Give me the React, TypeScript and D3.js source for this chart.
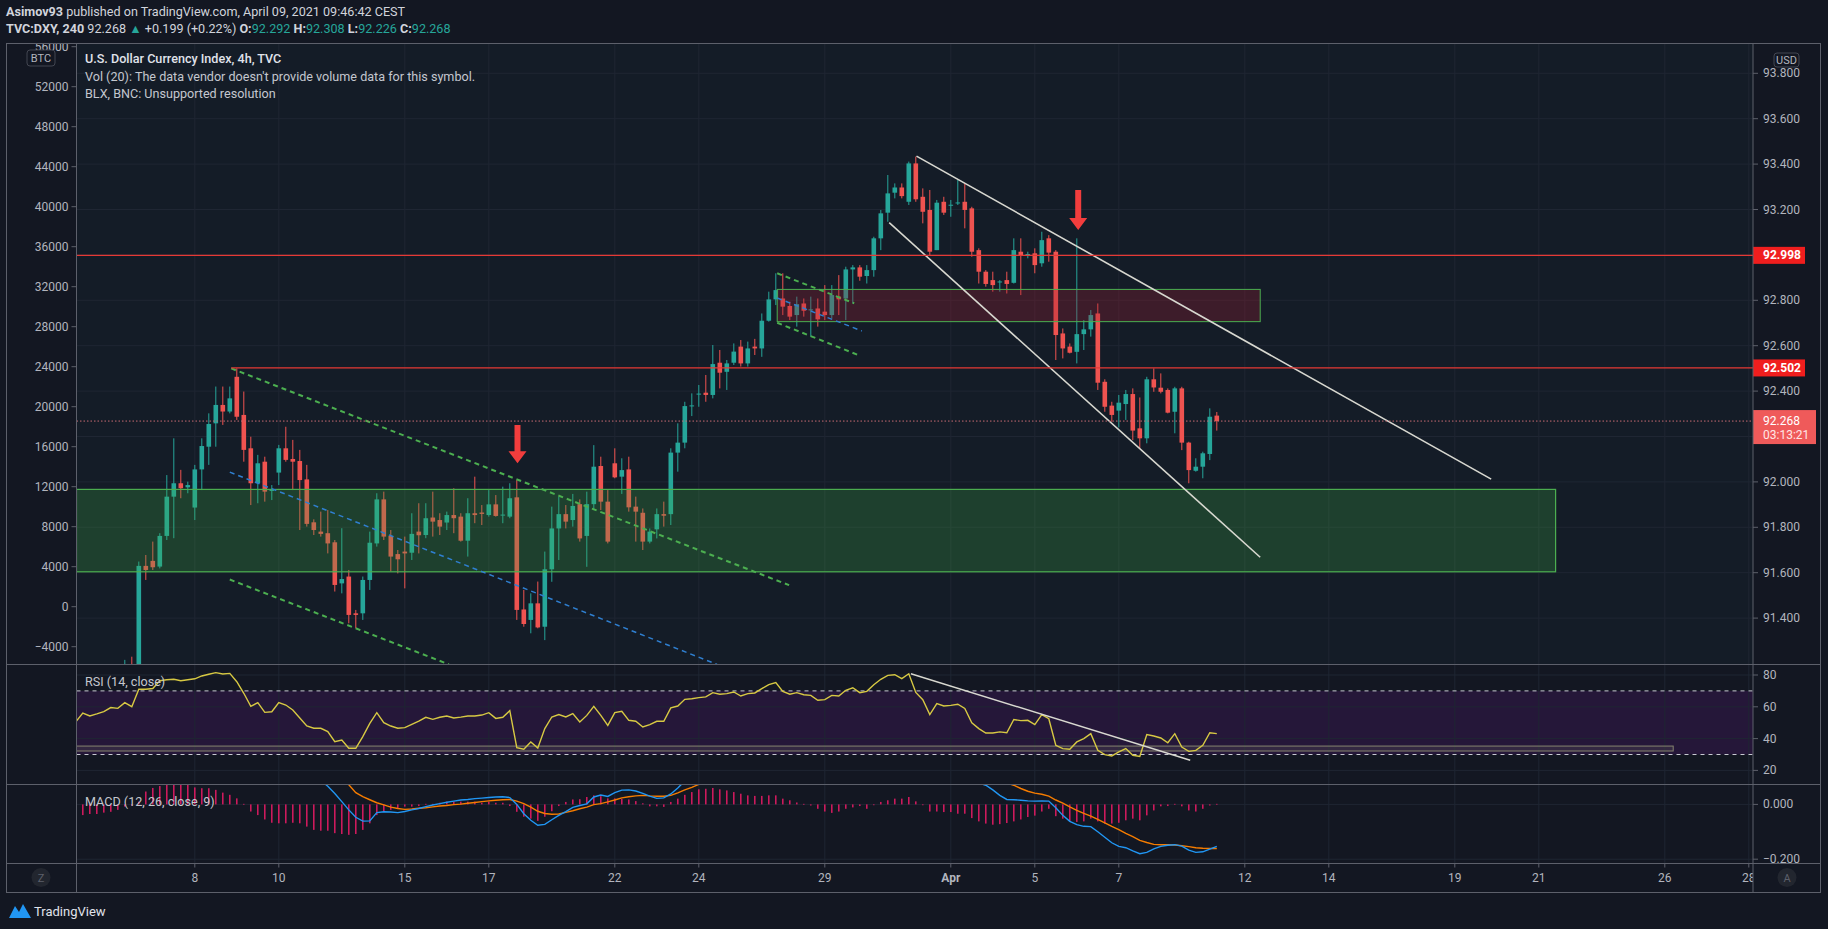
import React from 'react';
import * as d3 from 'd3';

// 4h bars, first bar index is -7 (Mar 8 00:00 = index 10)
const FIRST_INDEX = -7;

// O, H, L, C
const candles: [number, number, number, number][] = [
  [91.05, 91.12, 91.0, 91.08], [91.08, 91.14, 91.03, 91.1], [91.1, 91.15, 91.05, 91.07], [91.07, 91.13, 91.02, 91.11],
  [91.11, 91.17, 91.06, 91.14], [91.14, 91.18, 91.08, 91.12], [91.12, 91.17, 91.07, 91.12],
  [91.12, 91.216, 91.08, 91.15], [91.16, 91.23, 91.1, 91.13], [91.13, 91.649, 91.11, 91.63], [91.63, 91.678, 91.568, 91.612],
  [91.652, 91.737, 91.612, 91.624], [91.627, 91.774, 91.619, 91.762], [91.762, 92.03, 91.744, 91.935], [91.935, 92.192, 91.752, 91.994],
  [91.994, 92.053, 91.928, 91.972], [91.976, 92.001, 91.95, 91.986], [91.887, 92.075, 91.832, 92.055], [92.055, 92.192, 91.964, 92.158],
  [92.155, 92.302, 92.075, 92.255], [92.258, 92.42, 92.155, 92.339], [92.339, 92.42, 92.251, 92.31], [92.31, 92.42, 92.302, 92.368],
  [92.463, 92.5, 92.273, 92.287], [92.295, 92.398, 92.089, 92.141], [92.148, 92.199, 91.898, 91.994], [91.994, 92.119, 91.906, 92.082],
  [92.089, 92.111, 91.913, 91.957], [91.96, 91.986, 91.92, 91.967], [92.041, 92.163, 91.986, 92.148], [92.148, 92.243, 92.089, 92.097],
  [92.101, 92.185, 91.964, 92.089], [92.092, 92.141, 91.788, 92.008], [92.011, 92.075, 91.803, 91.815], [91.822, 91.835, 91.766, 91.788],
  [91.781, 91.869, 91.759, 91.771], [91.774, 91.876, 91.685, 91.729], [91.734, 91.744, 91.517, 91.546], [91.553, 91.796, 91.509, 91.572],
  [91.583, 91.612, 91.377, 91.414], [91.421, 91.436, 91.355, 91.414], [91.421, 91.583, 91.392, 91.568], [91.568, 91.781, 91.524, 91.732],
  [91.729, 91.95, 91.715, 91.923], [91.923, 91.957, 91.744, 91.759], [91.762, 91.788, 91.605, 91.671], [91.682, 91.7, 91.597, 91.659],
  [91.693, 91.759, 91.531, 91.685], [91.688, 91.862, 91.656, 91.771], [91.781, 91.906, 91.685, 91.765], [91.766, 91.906, 91.752, 91.84],
  [91.843, 91.957, 91.759, 91.825], [91.832, 91.862, 91.766, 91.803], [91.821, 91.869, 91.788, 91.854], [91.854, 91.972, 91.774, 91.84],
  [91.847, 91.862, 91.737, 91.741], [91.741, 91.928, 91.671, 91.862], [91.862, 92.023, 91.818, 91.854], [91.865, 91.898, 91.81, 91.859],
  [91.854, 91.964, 91.847, 91.901], [91.901, 91.942, 91.847, 91.85], [91.854, 91.979, 91.818, 91.856], [91.847, 91.994, 91.84, 91.928],
  [91.932, 92.008, 91.392, 91.436], [91.438, 91.524, 91.362, 91.374], [91.392, 91.509, 91.333, 91.465], [91.465, 91.561, 91.355, 91.359],
  [91.362, 91.693, 91.303, 91.615], [91.615, 91.891, 91.56, 91.795], [91.795, 91.935, 91.656, 91.858], [91.858, 91.898, 91.795, 91.825],
  [91.832, 91.947, 91.803, 91.894], [91.902, 91.923, 91.737, 91.751], [91.762, 91.957, 91.626, 91.902], [91.902, 92.162, 91.876, 92.067],
  [92.07, 92.111, 91.876, 91.913], [91.913, 91.964, 91.729, 91.737], [92.082, 92.148, 92.016, 92.02], [92.023, 92.104, 91.947, 92.052],
  [92.055, 92.111, 91.869, 91.888], [91.891, 91.935, 91.737, 91.869], [91.864, 91.883, 91.7, 91.737], [91.737, 91.795, 91.729, 91.781],
  [91.791, 91.883, 91.751, 91.858], [91.858, 91.913, 91.803, 91.851], [91.858, 92.148, 91.81, 92.129], [92.129, 92.258, 92.045, 92.173],
  [92.173, 92.353, 92.148, 92.334], [92.334, 92.39, 92.29, 92.337], [92.386, 92.427, 92.331, 92.389], [92.393, 92.471, 92.353, 92.383],
  [92.383, 92.603, 92.368, 92.519], [92.525, 92.581, 92.412, 92.481], [92.485, 92.537, 92.405, 92.522], [92.525, 92.61, 92.515, 92.574],
  [92.596, 92.625, 92.508, 92.522], [92.522, 92.618, 92.508, 92.588], [92.596, 92.63, 92.559, 92.588], [92.588, 92.742, 92.551, 92.71],
  [92.71, 92.838, 92.706, 92.804], [92.804, 92.919, 92.779, 92.845], [92.808, 92.919, 92.735, 92.772], [92.775, 92.794, 92.713, 92.728],
  [92.735, 92.816, 92.684, 92.783], [92.786, 92.808, 92.728, 92.754], [92.757, 92.816, 92.64, 92.76], [92.764, 92.808, 92.684, 92.716],
  [92.75, 92.867, 92.713, 92.735], [92.735, 92.867, 92.72, 92.823], [92.816, 92.911, 92.735, 92.804], [92.808, 92.948, 92.713, 92.936],
  [92.936, 92.955, 92.786, 92.945], [92.945, 92.955, 92.886, 92.904], [92.907, 92.955, 92.874, 92.933], [92.933, 93.08, 92.904, 93.073],
  [93.073, 93.198, 93.021, 93.183], [93.186, 93.352, 93.146, 93.271], [93.274, 93.315, 93.249, 93.297], [93.297, 93.315, 93.249, 93.259],
  [93.234, 93.411, 93.22, 93.403], [93.403, 93.433, 93.234, 93.245], [93.256, 93.293, 93.139, 93.19], [93.198, 93.286, 92.999, 93.014],
  [93.021, 93.242, 93.021, 93.23], [93.234, 93.256, 93.176, 93.186], [93.219, 93.242, 93.168, 93.221], [93.229, 93.33, 93.22, 93.231],
  [93.234, 93.315, 93.117, 93.198], [93.205, 93.212, 92.992, 93.014], [93.021, 93.029, 92.874, 92.926], [92.926, 92.933, 92.86, 92.872],
  [92.889, 92.926, 92.838, 92.867], [92.881, 92.889, 92.838, 92.883], [92.889, 92.926, 92.83, 92.872], [92.877, 93.073, 92.874, 93.021],
  [93.014, 93.073, 92.823, 92.999], [92.995, 93.014, 92.985, 93.004], [93.007, 93.029, 92.919, 92.955], [92.963, 93.102, 92.948, 93.065],
  [93.073, 93.087, 92.97, 93.01], [93.014, 93.021, 92.537, 92.647], [92.654, 92.676, 92.544, 92.588], [92.596, 92.61, 92.566, 92.569],
  [92.573, 93.073, 92.522, 92.651], [92.651, 92.713, 92.581, 92.672], [92.672, 92.757, 92.64, 92.735], [92.742, 92.786, 92.405, 92.437],
  [92.441, 92.452, 92.309, 92.331], [92.336, 92.353, 92.265, 92.295], [92.314, 92.383, 92.24, 92.349], [92.343, 92.405, 92.273, 92.387],
  [92.387, 92.412, 92.184, 92.226], [92.236, 92.372, 92.148, 92.192], [92.192, 92.463, 92.17, 92.452], [92.452, 92.5, 92.397, 92.416],
  [92.415, 92.478, 92.39, 92.397], [92.405, 92.412, 92.302, 92.305], [92.309, 92.419, 92.214, 92.412], [92.412, 92.419, 92.14, 92.173],
  [92.173, 92.177, 91.994, 92.052], [92.049, 92.104, 92.045, 92.067], [92.067, 92.133, 92.016, 92.126], [92.123, 92.324, 92.096, 92.287],
  [92.292, 92.308, 92.226, 92.268],
];

const rsiValues = [
  50.5, 56, 54.2, 55.5, 57, 59.5, 59, 62.6, 60.1, 71,
  71, 71.5, 76.4, 77, 77.3, 76.4, 77, 77.6, 79.4, 80.5,
  81.5, 80.6, 81, 75.8, 68.5, 60.3, 62.6, 56.5, 56.9, 62.6,
  61.1, 58, 53, 48, 46.5, 46.5, 44.4, 38.1, 39.1, 33.9,
  33.9, 41.2, 49.6, 56.3, 50, 47.9, 46.5, 46.9, 49, 51,
  53.4, 52.1, 53.4, 54.2, 53, 53.5, 54.2, 54.2, 54.8, 56.3,
  52.7, 53.4, 57.6, 34.3, 33.3, 37.9, 34.1, 46.3, 53.6, 55.1,
  53.6, 55.7, 50.4, 54.6, 60.3, 54.6, 48.3, 56.3, 57.2, 51.5,
  50.9, 47.3, 48.8, 50.9, 50.9, 59.3, 60.5, 64.7, 65.1, 65.8,
  66.2, 68.9, 67.9, 68.3, 69.3, 66.8, 68.3, 68.7, 71.4, 73.9,
  75.2, 69.7, 67.9, 68.9, 67.6, 67.2, 64.1, 64.5, 67.2, 66.8,
  70.4, 72, 68.9, 69.7, 73.9, 77.3, 79.8, 80.2, 77.7, 80.8,
  69, 64.5, 55.1, 62, 60.5, 60.9, 61.6, 59, 50, 46.3,
  43.5, 43.5, 44.2, 43.7, 52, 51.3, 51.5, 48.8, 55.1, 52.5,
  35.8, 33.7, 33.3, 37.9, 40, 43.1, 32.6, 29.9, 29.1, 31.6,
  33.7, 29.5, 28.8, 42.5, 41.6, 40.4, 37.4, 43.1, 34.7, 32,
  32.6, 35.8, 43.7, 43.1,
];

const macdValues = [
  0.14, 0.13, 0.12, 0.11, 0.1, 0.1, 0.1, 0.1, 0.11, 0.13,
  0.15, 0.17, 0.19, 0.21, 0.22, 0.23, 0.24, 0.24, 0.25, 0.25,
  0.25, 0.25, 0.24, 0.24, 0.23, 0.22, 0.22, 0.21, 0.2, 0.2,
  0.19, 0.18, 0.16, 0.14, 0.115, 0.088, 0.066, 0.04, 0.01, -0.02,
  -0.047, -0.061, -0.06, -0.03, -0.027, -0.028, -0.03, -0.026, -0.02, -0.015,
  -0.008, -0.002, 0.003, 0.008, 0.012, 0.016, 0.018, 0.021, 0.023, 0.025,
  0.027, 0.028, 0.025, 0.0, -0.034, -0.058, -0.076, -0.073, -0.056, -0.04,
  -0.026, -0.011, -0.004, 0.002, 0.027, 0.034, 0.029, 0.043, 0.052, 0.053,
  0.049, 0.04, 0.03, 0.022, 0.024, 0.038, 0.06, 0.085, 0.1, 0.115,
  0.13, 0.145, 0.155, 0.165, 0.17, 0.175, 0.18, 0.185, 0.19, 0.2,
  0.21, 0.21, 0.205, 0.2, 0.195, 0.19, 0.18, 0.17, 0.165, 0.16,
  0.16, 0.16, 0.16, 0.16, 0.165, 0.175, 0.185, 0.19, 0.195, 0.2,
  0.19, 0.175, 0.155, 0.14, 0.13, 0.12, 0.11, 0.1, 0.09, 0.078,
  0.07, 0.053, 0.033, 0.018, 0.017, 0.015, 0.013, 0.012, 0.013, 0.012,
  -0.012, -0.04, -0.062, -0.074, -0.08, -0.081, -0.1, -0.12, -0.14, -0.153,
  -0.158, -0.17, -0.18, -0.175, -0.162, -0.153, -0.149, -0.147, -0.152, -0.167,
  -0.175, -0.173, -0.163, -0.153,
];

const signalValues = [
  0.12, 0.12, 0.12, 0.12, 0.12, 0.115, 0.115, 0.11, 0.11, 0.11,
  0.115, 0.12, 0.13, 0.14, 0.15, 0.16, 0.17, 0.18, 0.19, 0.2,
  0.205, 0.21, 0.215, 0.22, 0.22, 0.22, 0.22, 0.215, 0.21, 0.205,
  0.2, 0.19, 0.18, 0.17, 0.155, 0.14, 0.125, 0.11, 0.09, 0.072,
  0.043, 0.028, 0.017, 0.006, -0.002, -0.01, -0.015, -0.018, -0.017, -0.014,
  -0.012, -0.009, -0.006, -0.004, -0.001, 0.001, 0.004, 0.007, 0.01, 0.013,
  0.015, 0.017, 0.018, 0.012, 0.003, -0.01, -0.025, -0.033, -0.036, -0.035,
  -0.029, -0.023, -0.016, -0.01, -0.001, 0.003, 0.009, 0.016, 0.024, 0.028,
  0.031, 0.033, 0.031, 0.03, 0.03, 0.033, 0.042, 0.053, 0.062, 0.073,
  0.085, 0.095, 0.105, 0.115, 0.125, 0.133, 0.14, 0.147, 0.153, 0.16,
  0.165, 0.17, 0.175, 0.178, 0.18, 0.182, 0.182, 0.181, 0.18, 0.178,
  0.176, 0.175, 0.173, 0.172, 0.172, 0.172, 0.174, 0.176, 0.178, 0.18,
  0.181, 0.18, 0.176, 0.17, 0.162, 0.155, 0.147, 0.138, 0.128, 0.117,
  0.105, 0.094, 0.085, 0.078, 0.07, 0.058, 0.048, 0.041, 0.037, 0.03,
  0.016, 0.005, -0.009, -0.022, -0.033, -0.043, -0.055, -0.067, -0.08, -0.092,
  -0.106, -0.118, -0.131, -0.139, -0.146, -0.147, -0.147, -0.148, -0.151, -0.154,
  -0.158, -0.16, -0.161, -0.161,
];

const histValues = [
  -0.04, -0.039, -0.035, -0.035, -0.03, -0.027, -0.02, -0.008, -0.004, 0.01,
  0.047, 0.06, 0.067, 0.075, 0.075, 0.075, 0.071, 0.062, 0.059, 0.059,
  0.053, 0.043, 0.035, 0.022, 0.002, -0.026, -0.039, -0.055, -0.067, -0.069,
  -0.069, -0.067, -0.069, -0.081, -0.093, -0.096, -0.096, -0.105, -0.108, -0.111,
  -0.108, -0.093, -0.069, -0.039, -0.027, -0.02, -0.014, -0.008, -0.008, -0.006,
  0.002, 0.002, 0.006, 0.01, 0.01, 0.01, 0.01, 0.01, 0.006, 0.01,
  0.006, 0.006, -0.006, -0.027, -0.045, -0.052, -0.06, -0.045, -0.025, -0.006,
  0.009, 0.018, 0.019, 0.027, 0.033, 0.03, 0.022, 0.022, 0.02, 0.018,
  0.012, 0.004, -0.007, -0.007, -0.009, 0.009, 0.021, 0.035, 0.045, 0.055,
  0.057, 0.06, 0.055, 0.051, 0.045, 0.039, 0.033, 0.031, 0.031, 0.033,
  0.033, 0.021, 0.015, 0.007, 0.002, -0.004, -0.016, -0.026, -0.031, -0.026,
  -0.016, -0.011, -0.006, -0.016, 0.0, 0.009, 0.015, 0.021, 0.021, 0.027,
  0.011, -0.001, -0.026, -0.026, -0.028, -0.028, -0.034, -0.034, -0.05, -0.062,
  -0.07, -0.074, -0.072, -0.068, -0.062, -0.055, -0.046, -0.041, -0.026, -0.016,
  -0.043, -0.052, -0.062, -0.064, -0.062, -0.052, -0.062, -0.07, -0.07, -0.067,
  -0.058, -0.052, -0.058, -0.04, -0.022, -0.007, -0.006, 0.002, -0.007, -0.022,
  -0.026, -0.016, -0.004, 0.002,
];

// time axis: labels and trading days after Mar 8
const dayLabels = ['8', '10', '15', '17', '22', '24', '29', 'Apr', '5', '7', '12', '14', '19', '21', '26', '28'];
const dayOffsets = [0, 2, 5, 7, 10, 12, 15, 18, 20, 22, 25, 27, 30, 32, 35, 37];

const priceGrid = [93.8, 93.6, 93.4, 93.2, 93.0, 92.8, 92.6, 92.4, 92.2, 92.0, 91.8, 91.6, 91.4];
const priceLabels = [93.8, 93.6, 93.4, 93.2, 92.8, 92.6, 92.4, 92.0, 91.8, 91.6, 91.4];
const btcTicks = [56000, 52000, 48000, 44000, 40000, 36000, 32000, 28000, 24000, 20000, 16000, 12000, 8000, 4000, 0, -4000];
const rsiTicks = [80, 60, 40, 20];
const macdTicks = [0, -0.2];

// drawings: [startIndex, startPrice, endIndex, endPrice]
const whiteTrendLines = [[113.1, 93.435, 195.2, 92.012], [109.2, 93.142, 162.2, 91.668]];
const greenDashLines = [[15.2, 92.5, 94.9, 91.545], [15.0, 91.57, 46.3, 91.196], [93.2, 92.919, 104.2, 92.787], [93.2, 92.701, 105.1, 92.555]];
const blueDashLines = [[15.0, 92.043, 84.6, 91.196], [93.2, 92.81, 105.3, 92.665]];
const levelPrices = [92.998, 92.502];
const levelStarts = [-6.9, 15.2];
const arrowIndex = [56.1, 136.2];
const arrowTop = [92.251, 93.286];
const arrowBottom = [92.082, 93.11];
const lastPrice = 92.268;

const W = 1828;
const H = 929;
const PL = 76.5;
const PR = 1753;
const OL = 6.5;
const OR = 1820.5;
const MAIN_T = 43.5;
const MAIN_B = 664.5;
const RSI_B = 784.5;
const MACD_B = 863.5;
const AX_B = 892.5;

const FONT = 'Roboto, "Noto Sans", sans-serif';
const UP = '#26a69a';
const DOWN = '#ef5350';
const TXT = '#b2b5be';
const BORDER = '#5d606b';
const GRID = '#1f2633';
const FS = 12.6;

const App = () => {
  const x = d3.scaleLinear().domain([-6.9, 232.6]).range([PL, PR]);
  const y = d3.scaleLinear().domain([91.4, 93.8]).range([618.1, 73.3]);
  const yBtc = d3.scaleLinear().domain([-4000, 52000]).range([646.7, 86.7]);
  const yR = d3.scaleLinear().domain([20, 80]).range([770.4, 675]);
  const yM = d3.scaleLinear().domain([-0.2, 0]).range([859.2, 804.4]);
  const idx = (k: number) => FIRST_INDEX + k;
  const fmt = d3.format('.3f');

  const rsiPath = d3.line<number>().x((_, k) => x(idx(k))).y((v) => yR(v))(rsiValues) || '';
  const macdPath = d3.line<number>().x((_, k) => x(idx(k))).y((v) => yM(v))(macdValues) || '';
  const sigPath = d3.line<number>().x((_, k) => x(idx(k))).y((v) => yM(v))(signalValues) || '';

  const dayX = dayOffsets.map((d) => x(10 + 6 * d));
  const bw = 4.6;

  const arrowPath = (cx: number, t: number, b: number) =>
    `M${cx - 3},${t} L${cx + 3},${t} L${cx + 3},${b - 12} L${cx + 9},${b - 12} L${cx},${b} L${cx - 9},${b - 12} L${cx - 3},${b - 12} Z`;

  return (
    <svg width={W} height={H} style={{ position: 'absolute', left: 0, top: 0, background: '#131722' }} fontFamily={FONT}>
      <defs>
        <clipPath id="cMain"><rect x={PL} y={MAIN_T} width={PR - PL} height={MAIN_B - MAIN_T} /></clipPath>
        <clipPath id="cRsi"><rect x={PL} y={MAIN_B} width={PR - PL} height={RSI_B - MAIN_B} /></clipPath>
        <clipPath id="cMacd"><rect x={PL} y={RSI_B} width={PR - PL} height={MACD_B - RSI_B} /></clipPath>
        <clipPath id="cLeft"><rect x={OL} y={MAIN_T} width={PL - OL} height={MAIN_B - MAIN_T} /></clipPath>
        <clipPath id="cTime"><rect x={PL} y={MACD_B} width={PR - PL} height={AX_B - MACD_B} /></clipPath>
      </defs>
      <rect x={0} y={0} width={W} height={H} fill="#131722" />

      {/* header */}
      <text x={6} y={16} fontSize={FS} fill="#d1d4dc">
        <tspan fontWeight="bold">Asimov93</tspan>
        <tspan> published on TradingView.com, April 09, 2021 09:46:42 CEST</tspan>
      </text>
      <text x={6} y={33} fontSize={FS} fill="#d1d4dc">
        <tspan fontWeight="bold">TVC:DXY, 240</tspan>
        <tspan> 92.268 </tspan>
        <tspan fill={UP}>▲</tspan>
        <tspan> +0.199 (+0.22%) </tspan>
        <tspan fontWeight="bold">O:</tspan><tspan fill={UP}>92.292</tspan>
        <tspan fontWeight="bold"> H:</tspan><tspan fill={UP}>92.308</tspan>
        <tspan fontWeight="bold"> L:</tspan><tspan fill={UP}>92.226</tspan>
        <tspan fontWeight="bold"> C:</tspan><tspan fill={UP}>92.268</tspan>
      </text>

      {/* pane backgrounds */}
      <rect x={PL} y={MAIN_T} width={PR - PL} height={MAIN_B - MAIN_T} fill="#141c27" />
      <rect x={PL} y={MAIN_B} width={PR - PL} height={MACD_B - MAIN_B} fill="#131722" />

      {/* main pane */}
      <g clipPath="url(#cMain)">
        {priceGrid.map((p) => (
          <line key={p} x1={PL} x2={PR} y1={y(p)} y2={y(p)} stroke={GRID} />
        ))}
        {dayX.map((dx, k) => (
          <line key={k} x1={dx} x2={dx} y1={MAIN_T} y2={MAIN_B} stroke={GRID} />
        ))}
        {candles.map(([o, h, l, c], k) => {
          const cx = x(idx(k));
          const col = c >= o ? UP : DOWN;
          const top = y(Math.max(o, c));
          const bot = y(Math.min(o, c));
          return (
            <g key={k}>
              <line x1={cx} x2={cx} y1={y(h)} y2={y(l)} stroke={col} strokeWidth={1} />
              <rect x={cx - bw / 2} y={top} width={bw} height={Math.max(1, bot - top)} fill={col} />
            </g>
          );
        })}
        {/* demand zone */}
        <rect x={x(-6.9)} y={y(91.967)} width={x(204.4) - x(-6.9)} height={y(91.604) - y(91.967)}
          fill="rgba(60,170,70,0.26)" stroke="#4caf50" strokeWidth={1.2} />
        {/* supply box */}
        <rect x={x(93.2)} y={y(92.848)} width={x(162.2) - x(93.2)} height={y(92.706) - y(92.848)}
          fill="rgba(160,30,50,0.3)" stroke="#4caf50" strokeWidth={1} />
        {greenDashLines.map(([a, pa, b, pb], k) => (
          <line key={k} x1={x(a)} y1={y(pa)} x2={x(b)} y2={y(pb)} stroke="#4caf50" strokeWidth={2} strokeDasharray="5,4" />
        ))}
        {blueDashLines.map(([a, pa, b, pb], k) => (
          <line key={k} x1={x(a)} y1={y(pa)} x2={x(b)} y2={y(pb)} stroke="#2f7fd0" strokeWidth={1.5} strokeDasharray="5,4" />
        ))}
        {whiteTrendLines.map(([a, pa, b, pb], k) => (
          <line key={k} x1={x(a)} y1={y(pa)} x2={x(b)} y2={y(pb)} stroke="#d8d8d0" strokeWidth={1.6} />
        ))}
        {levelPrices.map((p, k) => (
          <line key={p} x1={x(levelStarts[k])} x2={PR} y1={y(p)} y2={y(p)} stroke="#e53935" strokeWidth={1.3} />
        ))}
        <line x1={PL} x2={PR} y1={y(lastPrice)} y2={y(lastPrice)} stroke="#c86a72" strokeWidth={1} strokeDasharray="1.5,2" />
        {arrowIndex.map((a, k) => (
          <path key={k} d={arrowPath(x(a), y(arrowTop[k]), y(arrowBottom[k]))} fill="#f23d3d" />
        ))}
      </g>

      {/* legend */}
      <text x={85} y={63} fontSize={FS} fill="#e0e3eb" fontWeight={500}>U.S. Dollar Currency Index, 4h, TVC</text>
      <text x={85} y={81} fontSize={FS} fill="#c4c7cf">Vol (20): The data vendor doesn't provide volume data for this symbol.</text>
      <text x={85} y={98} fontSize={FS} fill="#c4c7cf">BLX, BNC: Unsupported resolution</text>

      {/* RSI pane */}
      <g clipPath="url(#cRsi)">
        <rect x={PL} y={yR(70)} width={PR - PL} height={yR(30) - yR(70)} fill="rgba(150,30,200,0.14)" />
        {rsiTicks.map((t) => (
          <line key={t} x1={PL} x2={PR} y1={yR(t)} y2={yR(t)} stroke={GRID} />
        ))}
        {dayX.map((dx, k) => (
          <line key={k} x1={dx} x2={dx} y1={MAIN_B} y2={RSI_B} stroke={GRID} />
        ))}
        <line x1={PL} x2={PR} y1={yR(70)} y2={yR(70)} stroke="#c8cad2" strokeDasharray="4,4" />
        <line x1={PL} x2={PR} y1={yR(30)} y2={yR(30)} stroke="#c8cad2" strokeDasharray="4,4" />
        <rect x={x(-6.9)} y={yR(35.3)} width={x(221.2) - x(-6.9)} height={yR(32.2) - yR(35.3)}
          fill="rgba(140,138,118,0.15)" stroke="#85846f" strokeWidth={1} />
        <path d={rsiPath} fill="none" stroke="#d7c943" strokeWidth={1.4} />
        <line x1={x(112.3)} y1={yR(80.8)} x2={x(152.2)} y2={yR(26.4)} stroke="#d8d8d0" strokeWidth={1.4} />
      </g>
      <text x={85} y={686} fontSize={FS} fill="#c4c7cf">RSI (14, close)</text>

      {/* MACD pane */}
      <g clipPath="url(#cMacd)">
        {macdTicks.map((t) => (
          <line key={t} x1={PL} x2={PR} y1={yM(t)} y2={yM(t)} stroke={GRID} />
        ))}
        {dayX.map((dx, k) => (
          <line key={k} x1={dx} x2={dx} y1={RSI_B} y2={MACD_B} stroke={GRID} />
        ))}
        {histValues.map((v, k) => (
          <rect key={k} x={x(idx(k)) - 0.75} y={Math.min(yM(v), yM(0))} width={1.5}
            height={Math.max(0.8, Math.abs(yM(v) - yM(0)))} fill="#d81b60" />
        ))}
        <path d={sigPath} fill="none" stroke="#f57c00" strokeWidth={1.4} />
        <path d={macdPath} fill="none" stroke="#2196f3" strokeWidth={1.4} />
      </g>
      <text x={85} y={806} fontSize={FS} fill="#c4c7cf">MACD (12, 26, close, 9)</text>

      {/* left BTC axis */}
      <g clipPath="url(#cLeft)">
        {btcTicks.map((t) => (
          <g key={t}>
            <line x1={PL - 5} x2={PL} y1={yBtc(t)} y2={yBtc(t)} stroke={BORDER} />
            <text x={PL - 8} y={yBtc(t) + 4} fontSize={12} textAnchor="end" fill={TXT}>{t < 0 ? `−${-t}` : t}</text>
          </g>
        ))}
        <rect x={27} y={50} width={28} height={16} rx={3} fill="#131722" stroke="#434651" />
        <text x={41} y={62} fontSize={11} textAnchor="middle" fill={TXT}>BTC</text>
      </g>

      {/* right price axis */}
      {priceLabels.map((p) => (
        <g key={p}>
          <line x1={PR} x2={PR + 5} y1={y(p)} y2={y(p)} stroke={BORDER} />
          <text x={PR + 10} y={y(p) + 4} fontSize={12} fill={TXT}>{fmt(p)}</text>
        </g>
      ))}
      <rect x={1774} y={53} width={25} height={14} rx={3} fill="#131722" stroke="#434651" />
      <text x={1786.5} y={64} fontSize={11} textAnchor="middle" fill={TXT}>USD</text>
      {levelPrices.map((p) => (
        <g key={p}>
          <rect x={PR} y={y(p) - 8.5} width={52} height={17} fill="#f01e1e" />
          <text x={PR + 10} y={y(p) + 4} fontSize={12} fill="#ffffff" fontWeight="bold">{fmt(p)}</text>
        </g>
      ))}
      <rect x={PR} y={y(lastPrice) - 11} width={63} height={34} fill="#ef5a5a" />
      <text x={PR + 10} y={y(lastPrice) + 4} fontSize={12} fill="#ffffff">{fmt(lastPrice)}</text>
      <text x={PR + 10} y={y(lastPrice) + 18} fontSize={12} fill="#ffe6e6">03:13:21</text>

      {rsiTicks.map((t) => (
        <g key={t}>
          <line x1={PR} x2={PR + 5} y1={yR(t)} y2={yR(t)} stroke={BORDER} />
          <text x={PR + 10} y={yR(t) + 4} fontSize={12} fill={TXT}>{t}</text>
        </g>
      ))}
      {macdTicks.map((t) => (
        <g key={t}>
          <line x1={PR} x2={PR + 5} y1={yM(t)} y2={yM(t)} stroke={BORDER} />
          <text x={PR + 10} y={yM(t) + 4} fontSize={12} fill={TXT}>{t < 0 ? `−${fmt(-t)}` : fmt(t)}</text>
        </g>
      ))}

      {/* time axis */}
      <g clipPath="url(#cTime)">
        {dayX.map((dx, k) => (
          <g key={k}>
            <line x1={dx} x2={dx} y1={MACD_B} y2={MACD_B + 4} stroke={BORDER} />
            <text x={dx} y={882} fontSize={12} textAnchor="middle" fill={TXT}
              fontWeight={dayLabels[k] === 'Apr' ? 'bold' : 'normal'}>{dayLabels[k]}</text>
          </g>
        ))}
      </g>
      <circle cx={41} cy={877.5} r={9.5} fill="#22262f" />
      <text x={41} y={881.5} fontSize={11} textAnchor="middle" fill="#5d606b">Z</text>
      <circle cx={1787} cy={877.5} r={9.5} fill="#22262f" />
      <text x={1787} y={881.5} fontSize={11} textAnchor="middle" fill="#5d606b">A</text>

      {/* frame */}
      <rect x={OL} y={MAIN_T} width={OR - OL} height={AX_B - MAIN_T} fill="none" stroke={BORDER} />
      <line x1={PL} x2={PL} y1={MAIN_T} y2={AX_B} stroke={BORDER} />
      <line x1={PR} x2={PR} y1={MAIN_T} y2={AX_B} stroke={BORDER} />
      <line x1={OL} x2={OR} y1={MAIN_B} y2={MAIN_B} stroke={BORDER} />
      <line x1={OL} x2={OR} y1={RSI_B} y2={RSI_B} stroke={BORDER} />
      <line x1={OL} x2={OR} y1={MACD_B} y2={MACD_B} stroke={BORDER} />

      {/* footer logo */}
      <path d="M9,918 L15,906 L19,912 L23,904 L31,918 Z" fill="#2196f3" />
      <text x={34} y={916} fontSize={13} fill="#e0e3eb">TradingView</text>
    </svg>
  );
};

export default App;
